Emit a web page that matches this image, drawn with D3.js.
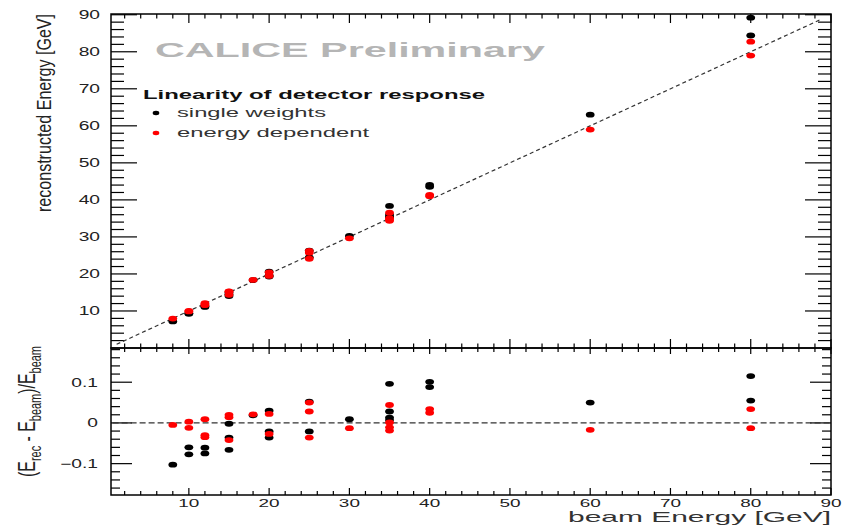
<!DOCTYPE html>
<head>
    <meta charset="utf-8">
    <title>CALICE linearity</title>
</head>
<style>
    body { margin: 0; background: #fff; }
    svg { display: block; font-family: "Liberation Sans", Arial, sans-serif; }
    .frame { fill: none; stroke: #000; stroke-width: 1.5px; }
    .tick { stroke: #000; stroke-width: 1.2px; }
    .ref { fill: none; stroke: #333; stroke-width: 1.2px; stroke-dasharray: 4,3; }
</style>
<body>
<script src="https://d3js.org/d3.v7.min.js"></script>
<script>
    // single weights (black)
    var swEnergy = [8, 10, 10, 12, 12, 15, 15, 15, 18, 20, 20, 20, 25, 25, 30, 35, 35, 35, 35, 40, 40, 60, 80, 80];
    var swReco = [7.18, 9.40, 9.23, 11.27, 11.10, 14.97, 14.46, 14.01, 18.34, 20.60, 19.58, 19.28, 26.30, 24.48,
        30.27, 38.36, 35.98, 35.46, 35.25, 44.04, 43.52, 63.0, 89.2, 84.4];
    // energy dependent weights (red)
    var edEnergy = [8, 10, 10, 12, 12, 12, 15, 15, 15, 18, 20, 20, 25, 25, 25, 30, 35, 35, 35, 35, 40, 40, 60, 80, 80];
    var edReco = [7.96, 10.03, 9.88, 12.11, 11.64, 11.58, 15.30, 15.21, 14.37, 18.38, 20.44, 19.46, 26.25, 25.70, 24.10,
        29.61, 36.54, 35.04, 34.62, 34.34, 41.36, 41.00, 58.98, 82.72, 78.96];

    var xTickLabels = [10, 20, 30, 40, 50, 60, 70, 80, 90];
    var yTopTickLabels = [10, 20, 30, 40, 50, 60, 70, 80, 90];
    var yBotTickLabels = [-0.1, 0, 0.1];
    var diagonal = [1, 88.7];

    var width = 854, height = 527;
    var pLeft = 111, pRight = 831, pTop = 14, pMid = 348, pBottom = 495;
    var sx = 1.6; // the picture is stretched horizontally

    var x = d3.scaleLinear().domain([0.3, 90]).range([pLeft, pRight]);
    var yTop = d3.scaleLinear().domain([0, 90.2]).range([pMid, pTop]);
    var yBot = d3.scaleLinear().domain([-0.177, 0.184]).range([pBottom, pMid]);

    var svg = d3.select("body").append("svg")
        .attr("width", width)
        .attr("height", height);

    function label(str, px, py, o) {
        o = o || {};
        var t = svg.append("text")
            .attr("transform", "translate(" + px + "," + py + ") scale(" + (o.sx || 1) + ",1)" + (o.rot ? " rotate(-90)" : ""))
            .attr("text-anchor", o.anchor || "start")
            .attr("font-size", o.size || 12)
            .attr("font-weight", o.bold ? "bold" : "normal")
            .attr("fill", o.fill || "#222")
            .text(str);
        if (o.len) t.attr("textLength", o.len).attr("lengthAdjust", "spacingAndGlyphs");
        return t;
    }

    // ticks, ROOT style: inside the frame on every side
    function vticks(vals, scale, x0, len) {
        svg.append("g").selectAll("line").data(vals).join("line")
            .attr("class", "tick")
            .attr("x1", x0).attr("x2", x0 + len)
            .attr("y1", d => scale(d)).attr("y2", d => scale(d));
    }
    function hticks(vals, y0, len) {
        svg.append("g").selectAll("line").data(vals).join("line")
            .attr("class", "tick")
            .attr("x1", d => x(d)).attr("x2", d => x(d))
            .attr("y1", y0).attr("y2", y0 + len);
    }

    var xMajor = d3.range(10, 91, 10);
    var xMinor = d3.range(2, 90, 2).filter(d => d % 10 != 0);
    var yTopMajor = d3.range(10, 91, 10);
    var yTopMinor = d3.range(2, 90, 2).filter(d => d % 10 != 0);
    var yBotMajor = [-0.1, 0, 0.1];
    var yBotMinor = d3.range(-0.16, 0.181, 0.02).filter(d => Math.abs(d * 10 - Math.round(d * 10)) > 1e-6);

    // top panel
    vticks(yTopMajor, yTop, pLeft, 26);
    vticks(yTopMinor, yTop, pLeft, 13);
    vticks(yTopMajor, yTop, pRight, -26);
    vticks(yTopMinor, yTop, pRight, -13);
    hticks(xMajor, pTop, 9);
    hticks(xMinor, pTop, 4.5);
    hticks(xMajor, pMid, -9);
    hticks(xMinor, pMid, -4.5);

    // bottom panel
    vticks(yBotMajor, yBot, pLeft, 21);
    vticks(yBotMinor, yBot, pLeft, 9);
    vticks(yBotMajor, yBot, pRight, -21);
    vticks(yBotMinor, yBot, pRight, -9);
    hticks(xMajor, pMid, 6);
    hticks(xMinor, pMid, 4);
    hticks(xMajor, pBottom, -7);
    hticks(xMinor, pBottom, -4);

    svg.append("rect").attr("class", "frame")
        .attr("x", pLeft).attr("y", pTop).attr("width", pRight - pLeft).attr("height", pMid - pTop);
    svg.append("rect").attr("class", "frame")
        .attr("x", pLeft).attr("y", pMid).attr("width", pRight - pLeft).attr("height", pBottom - pMid);

    // reference lines
    svg.append("line").attr("class", "ref")
        .attr("x1", x(diagonal[0])).attr("y1", yTop(diagonal[0]))
        .attr("x2", x(diagonal[1])).attr("y2", yTop(diagonal[1]));
    svg.append("line").attr("class", "ref")
        .style("stroke-dasharray", "6,3")
        .attr("x1", x(0.5)).attr("y1", yBot(0))
        .attr("x2", x(90)).attr("y2", yBot(0));

    // points
    function points(energy, reco, colour) {
        var data = energy.map((e, i) => ({e: e, r: reco[i]}));
        svg.append("g").selectAll("ellipse").data(data).join("ellipse")
            .attr("cx", d => x(d.e)).attr("cy", d => yTop(d.r))
            .attr("rx", 4.4).attr("ry", 2.9).attr("fill", colour);
        svg.append("g").selectAll("ellipse").data(data).join("ellipse")
            .attr("cx", d => x(d.e)).attr("cy", d => yBot((d.r - d.e) / d.e))
            .attr("rx", 4.4).attr("ry", 2.9).attr("fill", colour);
    }
    points(swEnergy, swReco, "#000");
    points(edEnergy, edReco, "#f00");

    // tick labels
    yTopTickLabels.forEach(v => label(v, 100, yTop(v) + 4.5, {anchor: "end", sx: sx}));
    yBotTickLabels.forEach(v => label(v == 0 ? "0" : d3.format(".1f")(v), 98, yBot(v) + 4.5, {anchor: "end", sx: sx}));
    xTickLabels.forEach(v => label(v, x(v), 506.5, {anchor: "middle", size: 11.5, sx: 1.65}));

    // titles
    label("beam Energy [GeV]", 831, 522, {anchor: "end", size: 15, fill: "#333", len: 263});
    label("reconstructed Energy [GeV]", 51, 14, {anchor: "end", size: 13, rot: true, sx: 1.55, len: 198});
    var yb = svg.append("text")
        .attr("transform", "translate(35,477) scale(1.6,1) rotate(-90)")
        .attr("font-size", 14.5)
        .attr("fill", "#222")
        .attr("textLength", 131).attr("lengthAdjust", "spacingAndGlyphs");
    yb.append("tspan").text("(E");
    yb.append("tspan").attr("font-size", 10).attr("dy", 4).text("rec");
    yb.append("tspan").attr("dy", -4).text(" - E");
    yb.append("tspan").attr("font-size", 10).attr("dy", 4).text("beam");
    yb.append("tspan").attr("dy", -4).text(")/E");
    yb.append("tspan").attr("font-size", 10).attr("dy", 4).text("beam");

    label("CALICE Preliminary", 155, 57, {size: 19.5, bold: true, fill: "#b5b5b5", len: 390});

    // legend
    label("Linearity of detector response", 143, 98.5, {size: 12, bold: true, fill: "#111", len: 342});
    label("single weights", 177, 116.5, {size: 13, fill: "#333", len: 149});
    label("energy dependent", 177, 136.5, {size: 13, fill: "#333", len: 192});
    svg.append("ellipse").attr("cx", 156).attr("cy", 113).attr("rx", 3.3).attr("ry", 2.2).attr("fill", "#000");
    svg.append("ellipse").attr("cx", 156).attr("cy", 133).attr("rx", 3.3).attr("ry", 2.2).attr("fill", "#f00");
</script>
</body>
